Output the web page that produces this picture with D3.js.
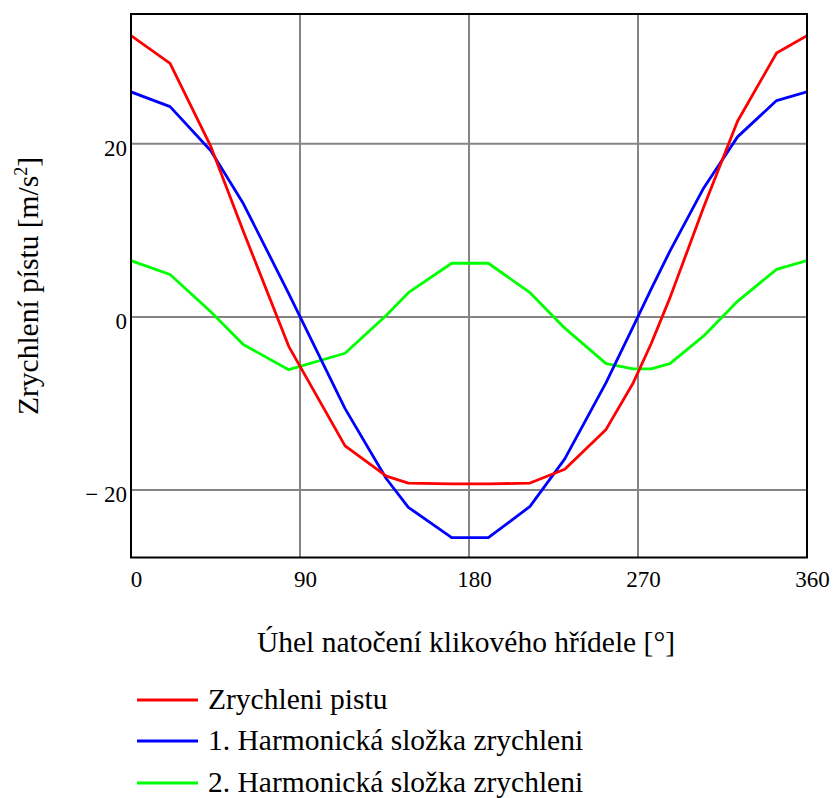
<!DOCTYPE html>
<html>
<head>
<meta charset="utf-8">
<script src="https://cdn.jsdelivr.net/npm/d3@7"></script>
<style>
  html, body { margin: 0; padding: 0; background: #fff; }
  svg { display: block; }
  svg text { font-family: "Liberation Serif", "Times New Roman", serif !important; fill: #000; }
</style>
</head>
<body>
<svg id="chart" width="833" height="798"></svg>
<script>
// ---- data ----
const angles = [0, 20.8, 42.5, 59.8, 84, 114, 136, 147.7, 170.8, 190.3, 212.5, 231, 253, 267.5, 277, 287, 305, 323, 343.8, 360];
const pistonAccel = [32.5, 29.3, 19.7, 9.9, -3.4, -14.9, -18.4, -19.2, -19.3, -19.3, -19.2, -17.6, -13.0, -7.6, -3.1, 2.2, 12.7, 22.6, 30.5, 32.5];
const harmonic1 = [26.0, 24.3, 19.2, 13.1, 2.7, -10.6, -18.7, -22.0, -25.5, -25.5, -21.9, -16.4, -7.6, -1.1, 3.2, 7.6, 14.9, 20.8, 25.0, 26.0];
const harmonic2 = [6.5, 4.9, 0.6, -3.2, -6.1, -4.2, 0.2, 2.8, 6.2, 6.2, 2.8, -1.3, -5.4, -6.0, -6.0, -5.4, -2.2, 1.8, 5.5, 6.5];
const xTicks = [0, 90, 180, 270, 360];
const xTickLabels = ["0", "90", "180", "270", "360"];
const yTicks = [-20, 0, 20];
const yTickLabels = ["\u2212 20", "0", "20"];
const seriesNames = ["Zrychleni pistu", "1. Harmonická složka zrychleni", "2. Harmonická složka zrychleni"];
const seriesColors = ["#ff0000", "#0000ff", "#00ff00"];
const xTitle = "Úhel natočení klikového hřídele [°]";
const yTitleMain = "Zrychlení pístu [m/s";
const yTitleSup = "2";
const yTitleEnd = "]";

// ---- layout ----
const FONT = '"Liberation Serif", "Times New Roman", serif';
const svg = d3.select("#chart");
const L = 131, R = 807, T = 14, B = 557.5;
const x = d3.scaleLinear().domain([0, 360]).range([L, R]);
const y = d3.scaleLinear().domain([-27.8, 35]).range([B, T]);

svg.append("rect").attr("width", 833).attr("height", 798).attr("fill", "#fff");

// grid
const grid = svg.append("g");
grid.selectAll("line.vx").data([90, 180, 270]).join("line")
  .attr("x1", d => x(d)).attr("x2", d => x(d)).attr("y1", T).attr("y2", B)
  .attr("stroke", "#858585").attr("stroke-width", 2);
grid.selectAll("line.hy").data(yTicks).join("line")
  .attr("x1", L).attr("x2", R).attr("y1", d => y(d)).attr("y2", d => y(d))
  .attr("stroke", "#858585").attr("stroke-width", 2);

// series
const series = [pistonAccel, harmonic1, harmonic2];
const line = d3.line().x((d, i) => x(angles[i])).y(d => y(d));
const plot = svg.append("g");
plot.append("clipPath").attr("id", "clip").append("rect")
  .attr("x", L).attr("y", T).attr("width", R - L).attr("height", B - T);
[2, 1, 0].forEach(k => {
  plot.append("path").attr("d", line(series[k]))
    .attr("fill", "none").attr("stroke", seriesColors[k])
    .attr("stroke-width", 2.8).attr("stroke-linejoin", "round")
    .attr("clip-path", "url(#clip)");
});

// frame
svg.append("rect").attr("x", L).attr("y", T).attr("width", R - L).attr("height", B - T)
  .attr("fill", "none").attr("stroke", "#000").attr("stroke-width", 2);

// axes
const xAxis = d3.axisBottom(x).tickValues(xTicks).tickSize(0)
  .tickFormat((d, i) => xTickLabels[i]);
const gx = svg.append("g").attr("transform", `translate(0,${B})`).call(xAxis)
  .attr("font-family", FONT);
gx.select(".domain").remove();
gx.selectAll("text").attr("font-size", 23).attr("dy", null).attr("y", 29)
  .attr("dx", 5).attr("fill", "#000");

const yAxis = d3.axisLeft(y).tickValues(yTicks).tickSize(0)
  .tickFormat((d, i) => yTickLabels[i]);
const gy = svg.append("g").attr("transform", `translate(${L},0)`).call(yAxis)
  .attr("font-family", FONT);
gy.select(".domain").remove();
gy.selectAll("text").attr("font-size", 23).attr("dy", null).attr("x", -4).attr("y", 12)
  .attr("fill", "#000");

// titles
svg.append("text").attr("x", 466).attr("y", 652).attr("text-anchor", "middle")
  .attr("font-family", FONT).attr("font-size", 29.5).text(xTitle);
const yt = svg.append("text").attr("transform", "translate(38,286) rotate(-90)")
  .attr("text-anchor", "middle").attr("font-family", FONT).attr("font-size", 29.5);
yt.append("tspan").text(yTitleMain);
yt.append("tspan").attr("font-size", 18).attr("dy", -11).text(yTitleSup);
yt.append("tspan").attr("dy", 11).text(yTitleEnd);

// legend
const legend = svg.append("g").attr("font-family", FONT);
const legY = [700, 741, 783];
seriesNames.forEach((name, k) => {
  legend.append("line").attr("x1", 137).attr("x2", 198)
    .attr("y1", legY[k]).attr("y2", legY[k])
    .attr("stroke", seriesColors[k]).attr("stroke-width", 3);
  legend.append("text").attr("x", 208).attr("y", legY[k] + 9)
    .attr("font-size", 29.5).text(name);
});
</script>
</body>
</html>
